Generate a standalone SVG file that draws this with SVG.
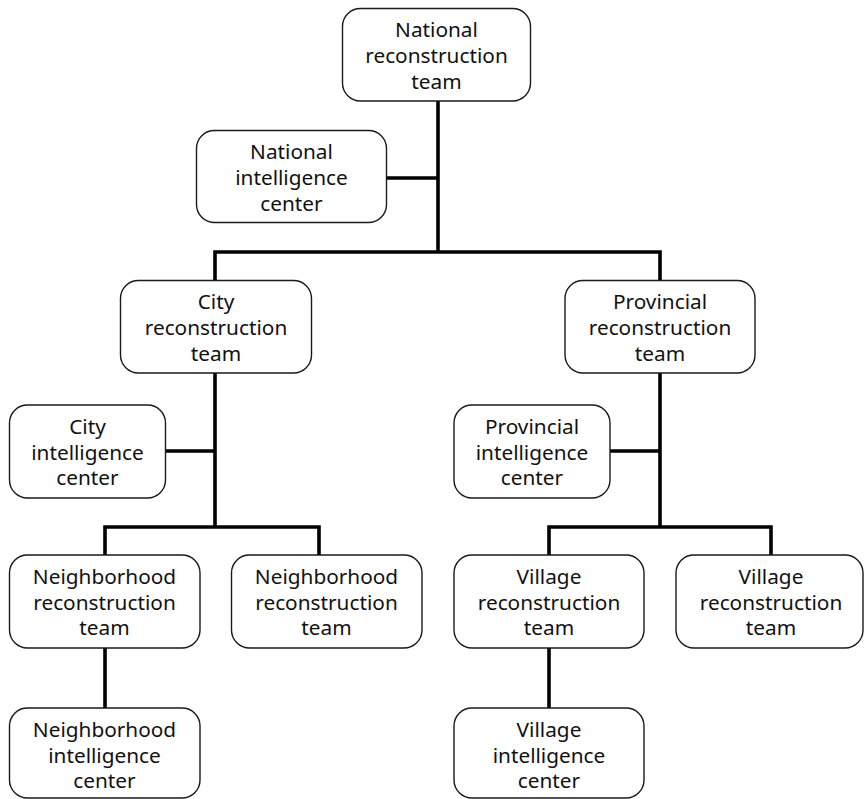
<svg xmlns="http://www.w3.org/2000/svg" width="864" height="799" viewBox="0 0 864 799">
<style>
.box{fill:#fff;stroke:#1a1a1a;stroke-width:1.4}
.lbl{font-family:"Noto Sans","Open Sans","DejaVu Sans",sans-serif;font-size:20.8px;fill:#111;text-anchor:middle}
.conn{fill:none;stroke:#000;stroke-width:3.6;stroke-linecap:butt;stroke-linejoin:miter}
</style>
<rect width="864" height="799" fill="#fff"/>
<g id="connectors">
<path class="conn" d="M438 101 V252"/>
<path class="conn" d="M387 178 H438"/>
<path class="conn" d="M215 281 V252 H660 V281"/>
<path class="conn" d="M215 373 V527"/>
<path class="conn" d="M166 451 H215"/>
<path class="conn" d="M105 555 V527 H319 V555"/>
<path class="conn" d="M660 373 V527"/>
<path class="conn" d="M610 451 H660"/>
<path class="conn" d="M549 555 V527 H771 V555"/>
<path class="conn" d="M105 648 V708"/>
<path class="conn" d="M549 648 V708"/>
</g>
<g id="national-recon">
<rect class="box" x="342.5" y="8.5" width="188" height="92.5" rx="18"/>
<text class="lbl" x="436.5" y="37">National</text>
<text class="lbl" x="436.5" y="63">reconstruction</text>
<text class="lbl" x="436.5" y="88.5">team</text>
</g>
<g id="national-intel">
<rect class="box" x="196.5" y="130.5" width="190" height="92" rx="18"/>
<text class="lbl" x="291.5" y="159">National</text>
<text class="lbl" x="291.5" y="185">intelligence</text>
<text class="lbl" x="291.5" y="210.5">center</text>
</g>
<g id="city-recon">
<rect class="box" x="120.5" y="280.5" width="191" height="92.5" rx="18"/>
<text class="lbl" x="216" y="309">City</text>
<text class="lbl" x="216" y="335">reconstruction</text>
<text class="lbl" x="216" y="360.5">team</text>
</g>
<g id="provincial-recon">
<rect class="box" x="565" y="280.5" width="190" height="92.5" rx="18"/>
<text class="lbl" x="660" y="309">Provincial</text>
<text class="lbl" x="660" y="335">reconstruction</text>
<text class="lbl" x="660" y="360.5">team</text>
</g>
<g id="city-intel">
<rect class="box" x="9.5" y="405" width="156" height="93" rx="18"/>
<text class="lbl" x="87.5" y="433.5">City</text>
<text class="lbl" x="87.5" y="459.5">intelligence</text>
<text class="lbl" x="87.5" y="485">center</text>
</g>
<g id="provincial-intel">
<rect class="box" x="454" y="405" width="156" height="93" rx="18"/>
<text class="lbl" x="532" y="433.5">Provincial</text>
<text class="lbl" x="532" y="459.5">intelligence</text>
<text class="lbl" x="532" y="485">center</text>
</g>
<g id="neighborhood-recon-1">
<rect class="box" x="9.5" y="555" width="190.5" height="93" rx="18"/>
<text class="lbl" x="104.5" y="583.5">Neighborhood</text>
<text class="lbl" x="104.5" y="609.5">reconstruction</text>
<text class="lbl" x="104.5" y="635">team</text>
</g>
<g id="neighborhood-recon-2">
<rect class="box" x="231.5" y="555" width="190.5" height="93" rx="18"/>
<text class="lbl" x="326.5" y="583.5">Neighborhood</text>
<text class="lbl" x="326.5" y="609.5">reconstruction</text>
<text class="lbl" x="326.5" y="635">team</text>
</g>
<g id="village-recon-1">
<rect class="box" x="454" y="555" width="190" height="93" rx="18"/>
<text class="lbl" x="549" y="583.5">Village</text>
<text class="lbl" x="549" y="609.5">reconstruction</text>
<text class="lbl" x="549" y="635">team</text>
</g>
<g id="village-recon-2">
<rect class="box" x="676" y="555" width="187" height="93" rx="18"/>
<text class="lbl" x="771" y="583.5">Village</text>
<text class="lbl" x="771" y="609.5">reconstruction</text>
<text class="lbl" x="771" y="635">team</text>
</g>
<g id="neighborhood-intel">
<rect class="box" x="9.5" y="708" width="190.5" height="90" rx="18"/>
<text class="lbl" x="104.5" y="736.5">Neighborhood</text>
<text class="lbl" x="104.5" y="762.5">intelligence</text>
<text class="lbl" x="104.5" y="788">center</text>
</g>
<g id="village-intel">
<rect class="box" x="454" y="708" width="190" height="90" rx="18"/>
<text class="lbl" x="549" y="736.5">Village</text>
<text class="lbl" x="549" y="762.5">intelligence</text>
<text class="lbl" x="549" y="788">center</text>
</g>
</svg>
